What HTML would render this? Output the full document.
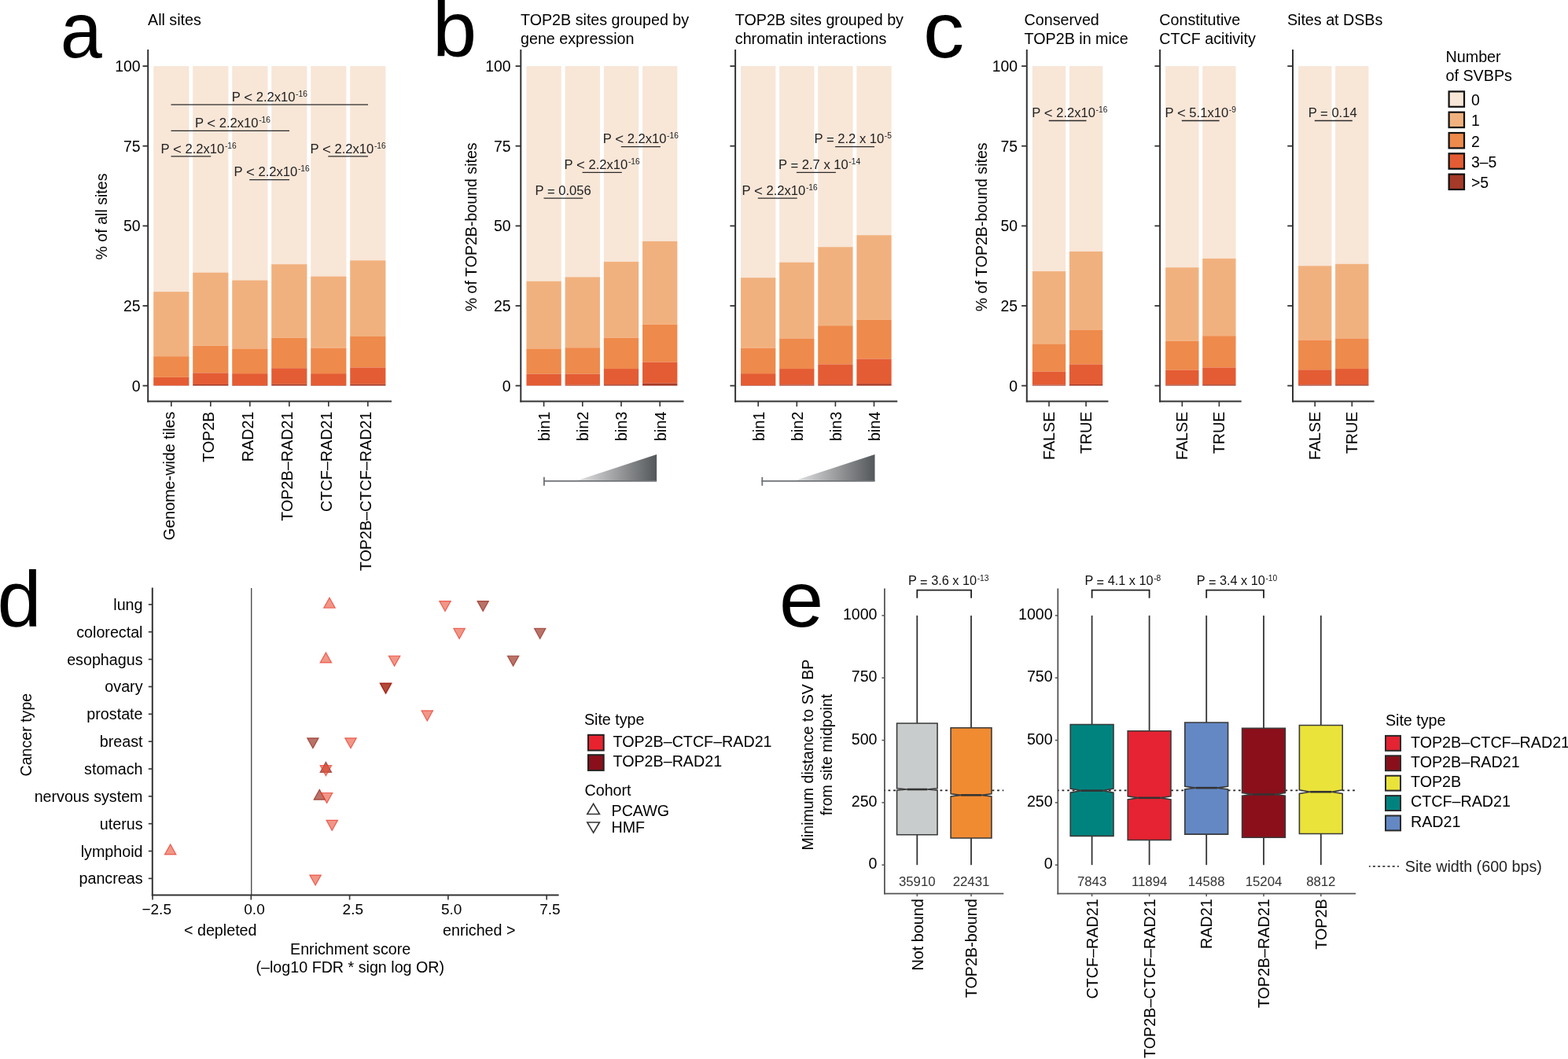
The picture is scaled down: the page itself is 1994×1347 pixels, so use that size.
<!DOCTYPE html>
<html><head><meta charset="utf-8"><title>Figure</title>
<style>
html,body{margin:0;padding:0;background:#fff;}
body{width:1994px;height:1347px;overflow:hidden;}
svg{display:block;font-family:"Liberation Sans", Arial, Helvetica, sans-serif;}
</style></head><body>
<svg width="1994" height="1347" viewBox="0 0 1994 1347">
<rect x="0" y="0" width="1994" height="1347" fill="#fff"/>
<text x="76.4" y="72.6" font-size="101" text-anchor="start" fill="#000" transform="translate(81 0) scale(0.944 1) translate(-81 0)">a</text>
<text x="550" y="72.3" font-size="101" text-anchor="start" fill="#000">b</text>
<text x="1174.2" y="72.8" font-size="101" text-anchor="start" fill="#000" transform="translate(1178.6 0) scale(1.032 1) translate(-1178.6 0)">c</text>
<text x="-3.4" y="797.3" font-size="101" text-anchor="start" fill="#000">d</text>
<text x="991" y="797" font-size="101" text-anchor="start" fill="#000">e</text>
<text x="188" y="31.9" font-size="19.7" text-anchor="start" fill="#000">All sites</text>
<text transform="translate(135.6,275.5) rotate(-90)" font-size="19.6" text-anchor="middle" fill="#000">% of all sites</text>
<rect x="195.2" y="84.1" width="45.2" height="286.99" fill="#F8E6D7"/>
<rect x="195.2" y="371.09" width="45.2" height="82.11" fill="#F1B17E"/>
<rect x="195.2" y="453.2" width="45.2" height="26.63" fill="#EE8A4B"/>
<rect x="195.2" y="479.83" width="45.2" height="10.37" fill="#E45C33"/>
<rect x="195.2" y="490.19" width="45.2" height="0.41" fill="#A53A28"/>
<rect x="245.2" y="84.1" width="45.2" height="262.6" fill="#F8E6D7"/>
<rect x="245.2" y="346.7" width="45.2" height="93.09" fill="#F1B17E"/>
<rect x="245.2" y="439.79" width="45.2" height="34.55" fill="#EE8A4B"/>
<rect x="245.2" y="474.34" width="45.2" height="14.63" fill="#E45C33"/>
<rect x="245.2" y="488.97" width="45.2" height="1.63" fill="#A53A28"/>
<rect x="295.2" y="84.1" width="45.2" height="272.36" fill="#F8E6D7"/>
<rect x="295.2" y="356.46" width="45.2" height="86.99" fill="#F1B17E"/>
<rect x="295.2" y="443.45" width="45.2" height="31.71" fill="#EE8A4B"/>
<rect x="295.2" y="475.15" width="45.2" height="14.84" fill="#E45C33"/>
<rect x="295.2" y="489.99" width="45.2" height="0.61" fill="#A53A28"/>
<rect x="345.2" y="84.1" width="45.2" height="252.03" fill="#F8E6D7"/>
<rect x="345.2" y="336.13" width="45.2" height="93.5" fill="#F1B17E"/>
<rect x="345.2" y="429.62" width="45.2" height="38.62" fill="#EE8A4B"/>
<rect x="345.2" y="468.24" width="45.2" height="20.53" fill="#E45C33"/>
<rect x="345.2" y="488.77" width="45.2" height="1.83" fill="#A53A28"/>
<rect x="395.2" y="84.1" width="45.2" height="267.48" fill="#F8E6D7"/>
<rect x="395.2" y="351.58" width="45.2" height="91.06" fill="#F1B17E"/>
<rect x="395.2" y="442.63" width="45.2" height="32.52" fill="#EE8A4B"/>
<rect x="395.2" y="475.15" width="45.2" height="14.84" fill="#E45C33"/>
<rect x="395.2" y="489.99" width="45.2" height="0.61" fill="#A53A28"/>
<rect x="445.2" y="84.1" width="45.2" height="247.15" fill="#F8E6D7"/>
<rect x="445.2" y="331.25" width="45.2" height="96.75" fill="#F1B17E"/>
<rect x="445.2" y="428" width="45.2" height="39.43" fill="#EE8A4B"/>
<rect x="445.2" y="467.43" width="45.2" height="21.34" fill="#E45C33"/>
<rect x="445.2" y="488.77" width="45.2" height="1.83" fill="#A53A28"/>
<line x1="188.2" y1="63" x2="188.2" y2="511.5" stroke="#333" stroke-width="2"/>
<line x1="181.5" y1="490.6" x2="188.2" y2="490.6" stroke="#333" stroke-width="1.8"/>
<text x="178.5" y="497.7" font-size="19.4" text-anchor="end" fill="#000">0</text>
<line x1="181.5" y1="388.98" x2="188.2" y2="388.98" stroke="#333" stroke-width="1.8"/>
<text x="178.5" y="396.08" font-size="19.4" text-anchor="end" fill="#000">25</text>
<line x1="181.5" y1="287.35" x2="188.2" y2="287.35" stroke="#333" stroke-width="1.8"/>
<text x="178.5" y="294.45" font-size="19.4" text-anchor="end" fill="#000">50</text>
<line x1="181.5" y1="185.72" x2="188.2" y2="185.72" stroke="#333" stroke-width="1.8"/>
<text x="178.5" y="192.82" font-size="19.4" text-anchor="end" fill="#000">75</text>
<line x1="181.5" y1="84.1" x2="188.2" y2="84.1" stroke="#333" stroke-width="1.8"/>
<text x="178.5" y="91.2" font-size="19.4" text-anchor="end" fill="#000">100</text>
<line x1="187.2" y1="510.6" x2="498" y2="510.6" stroke="#333" stroke-width="2"/>
<line x1="217.8" y1="510.6" x2="217.8" y2="517.1" stroke="#333" stroke-width="1.6"/>
<text transform="translate(222,523.6) rotate(-90)" font-size="19.75" text-anchor="end" fill="#000">Genome-wide tiles</text>
<line x1="267.8" y1="510.6" x2="267.8" y2="517.1" stroke="#333" stroke-width="1.6"/>
<text transform="translate(272,523.6) rotate(-90)" font-size="19.75" text-anchor="end" fill="#000">TOP2B</text>
<line x1="317.8" y1="510.6" x2="317.8" y2="517.1" stroke="#333" stroke-width="1.6"/>
<text transform="translate(322,523.6) rotate(-90)" font-size="19.75" text-anchor="end" fill="#000">RAD21</text>
<line x1="367.8" y1="510.6" x2="367.8" y2="517.1" stroke="#333" stroke-width="1.6"/>
<text transform="translate(372,523.6) rotate(-90)" font-size="19.75" text-anchor="end" fill="#000">TOP2B–RAD21</text>
<line x1="417.8" y1="510.6" x2="417.8" y2="517.1" stroke="#333" stroke-width="1.6"/>
<text transform="translate(422,523.6) rotate(-90)" font-size="19.75" text-anchor="end" fill="#000">CTCF–RAD21</text>
<line x1="467.8" y1="510.6" x2="467.8" y2="517.1" stroke="#333" stroke-width="1.6"/>
<text transform="translate(472,523.6) rotate(-90)" font-size="19.75" text-anchor="end" fill="#000">TOP2B–CTCF–RAD21</text>
<text x="294.8" y="128.8" font-size="16.6" text-anchor="start" fill="#222"><tspan y="128.8">P </tspan><tspan y="129.8" font-size="18.59">&lt;</tspan><tspan y="128.8"> 2.2x10</tspan><tspan y="123.2" font-size="10.2" dx="0.6">-16</tspan></text>
<line x1="217.5" y1="133.1" x2="468" y2="133.1" stroke="#2a2a2a" stroke-width="1.3"/>
<text x="247.9" y="161.9" font-size="16.6" text-anchor="start" fill="#222"><tspan y="161.9">P </tspan><tspan y="162.9" font-size="18.59">&lt;</tspan><tspan y="161.9"> 2.2x10</tspan><tspan y="156.3" font-size="10.2" dx="0.6">-16</tspan></text>
<line x1="217.5" y1="166.4" x2="368" y2="166.4" stroke="#2a2a2a" stroke-width="1.3"/>
<text x="204.6" y="194.8" font-size="16.6" text-anchor="start" fill="#222"><tspan y="194.8">P </tspan><tspan y="195.8" font-size="18.59">&lt;</tspan><tspan y="194.8"> 2.2x10</tspan><tspan y="189.2" font-size="10.2" dx="0.6">-16</tspan></text>
<line x1="217.5" y1="198.9" x2="268.2" y2="198.9" stroke="#2a2a2a" stroke-width="1.3"/>
<text x="394.6" y="194.8" font-size="16.6" text-anchor="start" fill="#222"><tspan y="194.8">P </tspan><tspan y="195.8" font-size="18.59">&lt;</tspan><tspan y="194.8"> 2.2x10</tspan><tspan y="189.2" font-size="10.2" dx="0.6">-16</tspan></text>
<line x1="417.3" y1="198.9" x2="468" y2="198.9" stroke="#2a2a2a" stroke-width="1.3"/>
<text x="297.6" y="223.9" font-size="16.6" text-anchor="start" fill="#222"><tspan y="223.9">P </tspan><tspan y="224.9" font-size="18.59">&lt;</tspan><tspan y="223.9"> 2.2x10</tspan><tspan y="218.3" font-size="10.2" dx="0.6">-16</tspan></text>
<line x1="317.2" y1="228.6" x2="368" y2="228.6" stroke="#2a2a2a" stroke-width="1.3"/>
<text transform="translate(605.5,288.8) rotate(-90)" font-size="19.6" text-anchor="middle" fill="#000">% of TOP2B-bound sites</text>
<text x="662" y="32.1" font-size="19.7" text-anchor="start" fill="#000">TOP2B sites grouped by</text>
<text x="662" y="55.6" font-size="19.7" text-anchor="start" fill="#000">gene expression</text>
<rect x="669.45" y="84.1" width="44.3" height="273.57" fill="#F8E6D7"/>
<rect x="669.45" y="357.67" width="44.3" height="85.77" fill="#F1B17E"/>
<rect x="669.45" y="443.45" width="44.3" height="32.11" fill="#EE8A4B"/>
<rect x="669.45" y="475.56" width="44.3" height="14.63" fill="#E45C33"/>
<rect x="669.45" y="490.19" width="44.3" height="0.41" fill="#A53A28"/>
<rect x="718.65" y="84.1" width="44.3" height="268.29" fill="#F8E6D7"/>
<rect x="718.65" y="352.39" width="44.3" height="89.84" fill="#F1B17E"/>
<rect x="718.65" y="442.23" width="44.3" height="33.33" fill="#EE8A4B"/>
<rect x="718.65" y="475.56" width="44.3" height="14.23" fill="#E45C33"/>
<rect x="718.65" y="489.79" width="44.3" height="0.81" fill="#A53A28"/>
<rect x="767.85" y="84.1" width="44.3" height="248.78" fill="#F8E6D7"/>
<rect x="767.85" y="332.88" width="44.3" height="96.75" fill="#F1B17E"/>
<rect x="767.85" y="429.62" width="44.3" height="39.43" fill="#EE8A4B"/>
<rect x="767.85" y="469.06" width="44.3" height="20.12" fill="#E45C33"/>
<rect x="767.85" y="489.18" width="44.3" height="1.42" fill="#A53A28"/>
<rect x="817.05" y="84.1" width="44.3" height="222.76" fill="#F8E6D7"/>
<rect x="817.05" y="306.86" width="44.3" height="105.69" fill="#F1B17E"/>
<rect x="817.05" y="412.55" width="44.3" height="47.97" fill="#EE8A4B"/>
<rect x="817.05" y="460.52" width="44.3" height="27.24" fill="#E45C33"/>
<rect x="817.05" y="487.75" width="44.3" height="2.85" fill="#A53A28"/>
<line x1="662.3" y1="63" x2="662.3" y2="511.5" stroke="#333" stroke-width="2"/>
<line x1="655.6" y1="490.6" x2="662.3" y2="490.6" stroke="#333" stroke-width="1.8"/>
<text x="649.6" y="497.7" font-size="19.4" text-anchor="end" fill="#000">0</text>
<line x1="655.6" y1="388.98" x2="662.3" y2="388.98" stroke="#333" stroke-width="1.8"/>
<text x="649.6" y="396.08" font-size="19.4" text-anchor="end" fill="#000">25</text>
<line x1="655.6" y1="287.35" x2="662.3" y2="287.35" stroke="#333" stroke-width="1.8"/>
<text x="649.6" y="294.45" font-size="19.4" text-anchor="end" fill="#000">50</text>
<line x1="655.6" y1="185.72" x2="662.3" y2="185.72" stroke="#333" stroke-width="1.8"/>
<text x="649.6" y="192.82" font-size="19.4" text-anchor="end" fill="#000">75</text>
<line x1="655.6" y1="84.1" x2="662.3" y2="84.1" stroke="#333" stroke-width="1.8"/>
<text x="649.6" y="91.2" font-size="19.4" text-anchor="end" fill="#000">100</text>
<line x1="661.3" y1="510.6" x2="869.5" y2="510.6" stroke="#333" stroke-width="2"/>
<line x1="691.6" y1="510.6" x2="691.6" y2="517.1" stroke="#333" stroke-width="1.6"/>
<text transform="translate(698.9,523.6) rotate(-90)" font-size="19.75" text-anchor="end" fill="#000">bin1</text>
<line x1="740.8" y1="510.6" x2="740.8" y2="517.1" stroke="#333" stroke-width="1.6"/>
<text transform="translate(748.1,523.6) rotate(-90)" font-size="19.75" text-anchor="end" fill="#000">bin2</text>
<line x1="790" y1="510.6" x2="790" y2="517.1" stroke="#333" stroke-width="1.6"/>
<text transform="translate(797.3,523.6) rotate(-90)" font-size="19.75" text-anchor="end" fill="#000">bin3</text>
<line x1="839.2" y1="510.6" x2="839.2" y2="517.1" stroke="#333" stroke-width="1.6"/>
<text transform="translate(846.5,523.6) rotate(-90)" font-size="19.75" text-anchor="end" fill="#000">bin4</text>
<text x="766.8" y="181.5" font-size="16.6" text-anchor="start" fill="#222"><tspan y="181.5">P </tspan><tspan y="182.5" font-size="18.59">&lt;</tspan><tspan y="181.5"> 2.2x10</tspan><tspan y="175.9" font-size="10.2" dx="0.6">-16</tspan></text>
<line x1="789.8" y1="186.6" x2="839.9" y2="186.6" stroke="#2a2a2a" stroke-width="1.3"/>
<text x="717.6" y="214.6" font-size="16.6" text-anchor="start" fill="#222"><tspan y="214.6">P </tspan><tspan y="215.6" font-size="18.59">&lt;</tspan><tspan y="214.6"> 2.2x10</tspan><tspan y="209" font-size="10.2" dx="0.6">-16</tspan></text>
<line x1="740.6" y1="219.3" x2="790.8" y2="219.3" stroke="#2a2a2a" stroke-width="1.3"/>
<text x="680.5" y="247.7" font-size="16.6" text-anchor="start" fill="#222"><tspan y="247.7">P </tspan><tspan y="249">=</tspan><tspan y="247.7"> 0.056</tspan></text>
<line x1="691.5" y1="252.2" x2="741.2" y2="252.2" stroke="#2a2a2a" stroke-width="1.3"/>
<text x="934.8" y="32.1" font-size="19.7" text-anchor="start" fill="#000">TOP2B sites grouped by</text>
<text x="934.8" y="55.6" font-size="19.7" text-anchor="start" fill="#000">chromatin interactions</text>
<rect x="942.05" y="84.1" width="44.3" height="269.1" fill="#F8E6D7"/>
<rect x="942.05" y="353.2" width="44.3" height="89.43" fill="#F1B17E"/>
<rect x="942.05" y="442.63" width="44.3" height="32.52" fill="#EE8A4B"/>
<rect x="942.05" y="475.15" width="44.3" height="14.84" fill="#E45C33"/>
<rect x="942.05" y="489.99" width="44.3" height="0.61" fill="#A53A28"/>
<rect x="991.15" y="84.1" width="44.3" height="249.59" fill="#F8E6D7"/>
<rect x="991.15" y="333.69" width="44.3" height="96.75" fill="#F1B17E"/>
<rect x="991.15" y="430.44" width="44.3" height="38.62" fill="#EE8A4B"/>
<rect x="991.15" y="469.06" width="44.3" height="20.33" fill="#E45C33"/>
<rect x="991.15" y="489.38" width="44.3" height="1.22" fill="#A53A28"/>
<rect x="1040.25" y="84.1" width="44.3" height="230.08" fill="#F8E6D7"/>
<rect x="1040.25" y="314.18" width="44.3" height="100" fill="#F1B17E"/>
<rect x="1040.25" y="414.18" width="44.3" height="49.19" fill="#EE8A4B"/>
<rect x="1040.25" y="463.36" width="44.3" height="25.81" fill="#E45C33"/>
<rect x="1040.25" y="489.18" width="44.3" height="1.42" fill="#A53A28"/>
<rect x="1089.35" y="84.1" width="44.3" height="215.04" fill="#F8E6D7"/>
<rect x="1089.35" y="299.14" width="44.3" height="107.72" fill="#F1B17E"/>
<rect x="1089.35" y="406.86" width="44.3" height="49.59" fill="#EE8A4B"/>
<rect x="1089.35" y="456.45" width="44.3" height="31.71" fill="#E45C33"/>
<rect x="1089.35" y="488.16" width="44.3" height="2.44" fill="#A53A28"/>
<line x1="935.1" y1="63" x2="935.1" y2="511.5" stroke="#333" stroke-width="2"/>
<line x1="928.4" y1="490.6" x2="935.1" y2="490.6" stroke="#333" stroke-width="1.8"/>
<line x1="928.4" y1="388.98" x2="935.1" y2="388.98" stroke="#333" stroke-width="1.8"/>
<line x1="928.4" y1="287.35" x2="935.1" y2="287.35" stroke="#333" stroke-width="1.8"/>
<line x1="928.4" y1="185.72" x2="935.1" y2="185.72" stroke="#333" stroke-width="1.8"/>
<line x1="928.4" y1="84.1" x2="935.1" y2="84.1" stroke="#333" stroke-width="1.8"/>
<line x1="934.1" y1="510.6" x2="1141.2" y2="510.6" stroke="#333" stroke-width="2"/>
<line x1="964.2" y1="510.6" x2="964.2" y2="517.1" stroke="#333" stroke-width="1.6"/>
<text transform="translate(971.5,523.6) rotate(-90)" font-size="19.75" text-anchor="end" fill="#000">bin1</text>
<line x1="1013.3" y1="510.6" x2="1013.3" y2="517.1" stroke="#333" stroke-width="1.6"/>
<text transform="translate(1020.6,523.6) rotate(-90)" font-size="19.75" text-anchor="end" fill="#000">bin2</text>
<line x1="1062.4" y1="510.6" x2="1062.4" y2="517.1" stroke="#333" stroke-width="1.6"/>
<text transform="translate(1069.7,523.6) rotate(-90)" font-size="19.75" text-anchor="end" fill="#000">bin3</text>
<line x1="1111.5" y1="510.6" x2="1111.5" y2="517.1" stroke="#333" stroke-width="1.6"/>
<text transform="translate(1118.8,523.6) rotate(-90)" font-size="19.75" text-anchor="end" fill="#000">bin4</text>
<text x="1035.5" y="181.5" font-size="16.6" text-anchor="start" fill="#222"><tspan y="181.5">P </tspan><tspan y="182.8">=</tspan><tspan y="181.5"> 2.2 x 10</tspan><tspan y="175.9" font-size="10.2" dx="0.6">-5</tspan></text>
<line x1="1062.1" y1="186.6" x2="1112" y2="186.6" stroke="#2a2a2a" stroke-width="1.3"/>
<text x="990" y="214.6" font-size="16.6" text-anchor="start" fill="#222"><tspan y="214.6">P </tspan><tspan y="215.9">=</tspan><tspan y="214.6"> 2.7 x 10</tspan><tspan y="209" font-size="10.2" dx="0.6">-14</tspan></text>
<line x1="1012.9" y1="219.3" x2="1062.9" y2="219.3" stroke="#2a2a2a" stroke-width="1.3"/>
<text x="943.6" y="247.7" font-size="16.6" text-anchor="start" fill="#222"><tspan y="247.7">P </tspan><tspan y="248.7" font-size="18.59">&lt;</tspan><tspan y="247.7"> 2.2x10</tspan><tspan y="242.1" font-size="10.2" dx="0.6">-16</tspan></text>
<line x1="963.8" y1="252.2" x2="1013.7" y2="252.2" stroke="#2a2a2a" stroke-width="1.3"/>
<defs><linearGradient id="gw1" gradientUnits="userSpaceOnUse" x1="715" y1="0" x2="835.1" y2="0"><stop offset="0" stop-color="#ffffff"/><stop offset="1" stop-color="#54575a"/></linearGradient></defs>
<polygon points="731.35,611.9 835.1,578 835.1,611.9" fill="url(#gw1)"/>
<line x1="691" y1="611.9" x2="835.1" y2="611.9" stroke="#6f7277" stroke-width="1.8"/>
<line x1="691.9" y1="606.8" x2="691.9" y2="617.8" stroke="#6f7277" stroke-width="1.8"/>
<defs><linearGradient id="gw2" gradientUnits="userSpaceOnUse" x1="992.4" y1="0" x2="1112.5" y2="0"><stop offset="0" stop-color="#ffffff"/><stop offset="1" stop-color="#54575a"/></linearGradient></defs>
<polygon points="1008.75,611.9 1112.5,578 1112.5,611.9" fill="url(#gw2)"/>
<line x1="968.4" y1="611.9" x2="1112.5" y2="611.9" stroke="#6f7277" stroke-width="1.8"/>
<line x1="969.3" y1="606.8" x2="969.3" y2="617.8" stroke="#6f7277" stroke-width="1.8"/>
<text transform="translate(1254.7,288.8) rotate(-90)" font-size="19.6" text-anchor="middle" fill="#000">% of TOP2B-bound sites</text>
<text x="1302.6" y="32.1" font-size="19.7" text-anchor="start" fill="#000">Conserved</text>
<text x="1302.6" y="55.6" font-size="19.7" text-anchor="start" fill="#000">TOP2B in mice</text>
<rect x="1312.86" y="84.1" width="42.34" height="260.97" fill="#F8E6D7"/>
<rect x="1312.86" y="345.07" width="42.34" height="92.28" fill="#F1B17E"/>
<rect x="1312.86" y="437.35" width="42.34" height="35.37" fill="#EE8A4B"/>
<rect x="1312.86" y="472.71" width="42.34" height="16.87" fill="#E45C33"/>
<rect x="1312.86" y="489.58" width="42.34" height="1.02" fill="#A53A28"/>
<rect x="1359.91" y="84.1" width="42.34" height="235.77" fill="#F8E6D7"/>
<rect x="1359.91" y="319.87" width="42.34" height="99.59" fill="#F1B17E"/>
<rect x="1359.91" y="419.46" width="42.34" height="43.9" fill="#EE8A4B"/>
<rect x="1359.91" y="463.36" width="42.34" height="25.61" fill="#E45C33"/>
<rect x="1359.91" y="488.97" width="42.34" height="1.63" fill="#A53A28"/>
<line x1="1305.8" y1="63" x2="1305.8" y2="511.5" stroke="#333" stroke-width="2"/>
<line x1="1299.1" y1="490.6" x2="1305.8" y2="490.6" stroke="#333" stroke-width="1.8"/>
<text x="1294" y="497.7" font-size="19.4" text-anchor="end" fill="#000">0</text>
<line x1="1299.1" y1="388.98" x2="1305.8" y2="388.98" stroke="#333" stroke-width="1.8"/>
<text x="1294" y="396.08" font-size="19.4" text-anchor="end" fill="#000">25</text>
<line x1="1299.1" y1="287.35" x2="1305.8" y2="287.35" stroke="#333" stroke-width="1.8"/>
<text x="1294" y="294.45" font-size="19.4" text-anchor="end" fill="#000">50</text>
<line x1="1299.1" y1="185.72" x2="1305.8" y2="185.72" stroke="#333" stroke-width="1.8"/>
<text x="1294" y="192.82" font-size="19.4" text-anchor="end" fill="#000">75</text>
<line x1="1299.1" y1="84.1" x2="1305.8" y2="84.1" stroke="#333" stroke-width="1.8"/>
<text x="1294" y="91.2" font-size="19.4" text-anchor="end" fill="#000">100</text>
<line x1="1304.8" y1="510.6" x2="1409.4" y2="510.6" stroke="#333" stroke-width="2"/>
<line x1="1334.03" y1="510.6" x2="1334.03" y2="517.1" stroke="#333" stroke-width="1.6"/>
<text transform="translate(1341.03,523.6) rotate(-90)" font-size="19.75" text-anchor="end" fill="#000">FALSE</text>
<line x1="1381.08" y1="510.6" x2="1381.08" y2="517.1" stroke="#333" stroke-width="1.6"/>
<text transform="translate(1388.08,523.6) rotate(-90)" font-size="19.75" text-anchor="end" fill="#000">TRUE</text>
<text x="1474.3" y="32.1" font-size="19.7" text-anchor="start" fill="#000">Constitutive</text>
<text x="1474.3" y="55.6" font-size="19.7" text-anchor="start" fill="#000">CTCF acitivity</text>
<rect x="1482.16" y="84.1" width="42.34" height="256.1" fill="#F8E6D7"/>
<rect x="1482.16" y="340.2" width="42.34" height="93.49" fill="#F1B17E"/>
<rect x="1482.16" y="433.69" width="42.34" height="36.99" fill="#EE8A4B"/>
<rect x="1482.16" y="470.68" width="42.34" height="18.7" fill="#E45C33"/>
<rect x="1482.16" y="489.38" width="42.34" height="1.22" fill="#A53A28"/>
<rect x="1529.21" y="84.1" width="42.34" height="244.71" fill="#F8E6D7"/>
<rect x="1529.21" y="328.81" width="42.34" height="98.37" fill="#F1B17E"/>
<rect x="1529.21" y="427.19" width="42.34" height="40.24" fill="#EE8A4B"/>
<rect x="1529.21" y="467.43" width="42.34" height="21.75" fill="#E45C33"/>
<rect x="1529.21" y="489.18" width="42.34" height="1.42" fill="#A53A28"/>
<line x1="1475.1" y1="63" x2="1475.1" y2="511.5" stroke="#333" stroke-width="2"/>
<line x1="1468.4" y1="490.6" x2="1475.1" y2="490.6" stroke="#333" stroke-width="1.8"/>
<line x1="1468.4" y1="388.98" x2="1475.1" y2="388.98" stroke="#333" stroke-width="1.8"/>
<line x1="1468.4" y1="287.35" x2="1475.1" y2="287.35" stroke="#333" stroke-width="1.8"/>
<line x1="1468.4" y1="185.72" x2="1475.1" y2="185.72" stroke="#333" stroke-width="1.8"/>
<line x1="1468.4" y1="84.1" x2="1475.1" y2="84.1" stroke="#333" stroke-width="1.8"/>
<line x1="1474.1" y1="510.6" x2="1578.7" y2="510.6" stroke="#333" stroke-width="2"/>
<line x1="1503.33" y1="510.6" x2="1503.33" y2="517.1" stroke="#333" stroke-width="1.6"/>
<text transform="translate(1510.33,523.6) rotate(-90)" font-size="19.75" text-anchor="end" fill="#000">FALSE</text>
<line x1="1550.38" y1="510.6" x2="1550.38" y2="517.1" stroke="#333" stroke-width="1.6"/>
<text transform="translate(1557.38,523.6) rotate(-90)" font-size="19.75" text-anchor="end" fill="#000">TRUE</text>
<text x="1636.9" y="32.1" font-size="19.7" text-anchor="start" fill="#000">Sites at DSBs</text>
<rect x="1651.06" y="84.1" width="42.34" height="254.06" fill="#F8E6D7"/>
<rect x="1651.06" y="338.16" width="42.34" height="94.31" fill="#F1B17E"/>
<rect x="1651.06" y="432.47" width="42.34" height="37.8" fill="#EE8A4B"/>
<rect x="1651.06" y="470.28" width="42.34" height="19.11" fill="#E45C33"/>
<rect x="1651.06" y="489.38" width="42.34" height="1.22" fill="#A53A28"/>
<rect x="1698.11" y="84.1" width="42.34" height="251.62" fill="#F8E6D7"/>
<rect x="1698.11" y="335.72" width="42.34" height="94.71" fill="#F1B17E"/>
<rect x="1698.11" y="430.44" width="42.34" height="38.62" fill="#EE8A4B"/>
<rect x="1698.11" y="469.06" width="42.34" height="20.12" fill="#E45C33"/>
<rect x="1698.11" y="489.18" width="42.34" height="1.42" fill="#A53A28"/>
<line x1="1644" y1="63" x2="1644" y2="511.5" stroke="#333" stroke-width="2"/>
<line x1="1637.3" y1="490.6" x2="1644" y2="490.6" stroke="#333" stroke-width="1.8"/>
<line x1="1637.3" y1="388.98" x2="1644" y2="388.98" stroke="#333" stroke-width="1.8"/>
<line x1="1637.3" y1="287.35" x2="1644" y2="287.35" stroke="#333" stroke-width="1.8"/>
<line x1="1637.3" y1="185.72" x2="1644" y2="185.72" stroke="#333" stroke-width="1.8"/>
<line x1="1637.3" y1="84.1" x2="1644" y2="84.1" stroke="#333" stroke-width="1.8"/>
<line x1="1643" y1="510.6" x2="1747.6" y2="510.6" stroke="#333" stroke-width="2"/>
<line x1="1672.23" y1="510.6" x2="1672.23" y2="517.1" stroke="#333" stroke-width="1.6"/>
<text transform="translate(1679.23,523.6) rotate(-90)" font-size="19.75" text-anchor="end" fill="#000">FALSE</text>
<line x1="1719.28" y1="510.6" x2="1719.28" y2="517.1" stroke="#333" stroke-width="1.6"/>
<text transform="translate(1726.28,523.6) rotate(-90)" font-size="19.75" text-anchor="end" fill="#000">TRUE</text>
<text x="1312.3" y="149" font-size="16.6" text-anchor="start" fill="#222"><tspan y="149">P </tspan><tspan y="150" font-size="18.59">&lt;</tspan><tspan y="149"> 2.2x10</tspan><tspan y="143.4" font-size="10.2" dx="0.6">-16</tspan></text>
<line x1="1333.7" y1="153.5" x2="1381.5" y2="153.5" stroke="#2a2a2a" stroke-width="1.3"/>
<text x="1481.5" y="149" font-size="16.6" text-anchor="start" fill="#222"><tspan y="149">P </tspan><tspan y="150" font-size="18.59">&lt;</tspan><tspan y="149"> 5.1x10</tspan><tspan y="143.4" font-size="10.2" dx="0.6">-9</tspan></text>
<line x1="1502.8" y1="153.5" x2="1550.6" y2="153.5" stroke="#2a2a2a" stroke-width="1.3"/>
<text x="1663.7" y="149" font-size="16.6" text-anchor="start" fill="#222"><tspan y="149">P </tspan><tspan y="150.3">=</tspan><tspan y="149"> 0.14</tspan></text>
<line x1="1671.8" y1="153.5" x2="1719.8" y2="153.5" stroke="#2a2a2a" stroke-width="1.3"/>
<text x="1838.6" y="78.8" font-size="19.7" text-anchor="start" fill="#000">Number</text>
<text x="1838.6" y="102.7" font-size="19.7" text-anchor="start" fill="#000">of SVBPs</text>
<rect x="1842.6" y="116.4" width="19.4" height="19.4" fill="#F8E6D7" stroke="#111" stroke-width="2.2"/>
<text x="1871" y="133.9" font-size="19.4" text-anchor="start" fill="#000">0</text>
<rect x="1842.6" y="142.7" width="19.4" height="19.4" fill="#F1B17E" stroke="#111" stroke-width="2.2"/>
<text x="1871" y="160.2" font-size="19.4" text-anchor="start" fill="#000">1</text>
<rect x="1842.6" y="169" width="19.4" height="19.4" fill="#EE8A4B" stroke="#111" stroke-width="2.2"/>
<text x="1871" y="186.5" font-size="19.4" text-anchor="start" fill="#000">2</text>
<rect x="1842.6" y="195.3" width="19.4" height="19.4" fill="#E45C33" stroke="#111" stroke-width="2.2"/>
<text x="1871" y="212.8" font-size="19.4" text-anchor="start" fill="#000">3–5</text>
<rect x="1842.6" y="221.6" width="19.4" height="19.4" fill="#A53A28" stroke="#111" stroke-width="2.2"/>
<text x="1871" y="239.1" font-size="19.4" text-anchor="start" fill="#000">&gt;5</text>
<line x1="319.7" y1="748" x2="319.7" y2="1138" stroke="#444" stroke-width="1.3"/>
<line x1="193.8" y1="747.4" x2="193.8" y2="1139.4" stroke="#333" stroke-width="2"/>
<line x1="192.8" y1="1138.4" x2="710.6" y2="1138.4" stroke="#333" stroke-width="2"/>
<line x1="188.8" y1="768.9" x2="193.8" y2="768.9" stroke="#333" stroke-width="1.6"/>
<text x="181.5" y="775.9" font-size="19.7" text-anchor="end" fill="#000">lung</text>
<line x1="188.8" y1="803.75" x2="193.8" y2="803.75" stroke="#333" stroke-width="1.6"/>
<text x="181.5" y="810.75" font-size="19.7" text-anchor="end" fill="#000">colorectal</text>
<line x1="188.8" y1="838.6" x2="193.8" y2="838.6" stroke="#333" stroke-width="1.6"/>
<text x="181.5" y="845.6" font-size="19.7" text-anchor="end" fill="#000">esophagus</text>
<line x1="188.8" y1="873.45" x2="193.8" y2="873.45" stroke="#333" stroke-width="1.6"/>
<text x="181.5" y="880.45" font-size="19.7" text-anchor="end" fill="#000">ovary</text>
<line x1="188.8" y1="908.3" x2="193.8" y2="908.3" stroke="#333" stroke-width="1.6"/>
<text x="181.5" y="915.3" font-size="19.7" text-anchor="end" fill="#000">prostate</text>
<line x1="188.8" y1="943.15" x2="193.8" y2="943.15" stroke="#333" stroke-width="1.6"/>
<text x="181.5" y="950.15" font-size="19.7" text-anchor="end" fill="#000">breast</text>
<line x1="188.8" y1="978" x2="193.8" y2="978" stroke="#333" stroke-width="1.6"/>
<text x="181.5" y="985" font-size="19.7" text-anchor="end" fill="#000">stomach</text>
<line x1="188.8" y1="1012.85" x2="193.8" y2="1012.85" stroke="#333" stroke-width="1.6"/>
<text x="181.5" y="1019.85" font-size="19.7" text-anchor="end" fill="#000">nervous system</text>
<line x1="188.8" y1="1047.7" x2="193.8" y2="1047.7" stroke="#333" stroke-width="1.6"/>
<text x="181.5" y="1054.7" font-size="19.7" text-anchor="end" fill="#000">uterus</text>
<line x1="188.8" y1="1082.55" x2="193.8" y2="1082.55" stroke="#333" stroke-width="1.6"/>
<text x="181.5" y="1089.55" font-size="19.7" text-anchor="end" fill="#000">lymphoid</text>
<line x1="188.8" y1="1117.4" x2="193.8" y2="1117.4" stroke="#333" stroke-width="1.6"/>
<text x="181.5" y="1124.4" font-size="19.7" text-anchor="end" fill="#000">pancreas</text>
<line x1="194" y1="1138.4" x2="194" y2="1144.5" stroke="#333" stroke-width="1.6"/>
<text x="199.2" y="1162.9" font-size="19" text-anchor="middle" fill="#000">−2.5</text>
<line x1="319.3" y1="1138.4" x2="319.3" y2="1144.5" stroke="#333" stroke-width="1.6"/>
<text x="323.5" y="1162.9" font-size="19" text-anchor="middle" fill="#000">0.0</text>
<line x1="444.6" y1="1138.4" x2="444.6" y2="1144.5" stroke="#333" stroke-width="1.6"/>
<text x="448.8" y="1162.9" font-size="19" text-anchor="middle" fill="#000">2.5</text>
<line x1="569.9" y1="1138.4" x2="569.9" y2="1144.5" stroke="#333" stroke-width="1.6"/>
<text x="574.1" y="1162.9" font-size="19" text-anchor="middle" fill="#000">5.0</text>
<line x1="695.2" y1="1138.4" x2="695.2" y2="1144.5" stroke="#333" stroke-width="1.6"/>
<text x="699.4" y="1162.9" font-size="19" text-anchor="middle" fill="#000">7.5</text>
<text x="234" y="1190.4" font-size="19.7" text-anchor="start" fill="#000">&lt; depleted</text>
<text x="563" y="1190.4" font-size="19.7" text-anchor="start" fill="#000">enriched &gt;</text>
<text x="445.6" y="1213.7" font-size="19.7" text-anchor="middle" fill="#000">Enrichment score</text>
<text x="445.3" y="1236.8" font-size="19.7" text-anchor="middle" fill="#000">(–log10 FDR * sign log OR)</text>
<text transform="translate(40.4,934.6) rotate(-90)" font-size="19.6" text-anchor="middle" fill="#000">Cancer type</text>
<polygon points="419,760.23 411.8,773.23 426.2,773.23" fill="rgba(232,80,55,0.6)" stroke="rgba(232,60,45,0.75)" stroke-width="1.2" stroke-linejoin="miter"/>
<polygon points="566,777.57 558.8,764.57 573.2,764.57" fill="rgba(232,80,55,0.6)" stroke="rgba(232,60,45,0.75)" stroke-width="1.2" stroke-linejoin="miter"/>
<polygon points="614.2,777.57 607,764.57 621.4,764.57" fill="rgba(138,22,5,0.6)" stroke="rgba(140,25,10,0.66)" stroke-width="1.2" stroke-linejoin="miter"/>
<polygon points="584.1,812.42 576.9,799.42 591.3,799.42" fill="rgba(232,80,55,0.6)" stroke="rgba(232,60,45,0.75)" stroke-width="1.2" stroke-linejoin="miter"/>
<polygon points="686.7,812.42 679.5,799.42 693.9,799.42" fill="rgba(138,22,5,0.6)" stroke="rgba(140,25,10,0.66)" stroke-width="1.2" stroke-linejoin="miter"/>
<polygon points="414.4,829.93 407.2,842.93 421.6,842.93" fill="rgba(232,80,55,0.6)" stroke="rgba(232,60,45,0.75)" stroke-width="1.2" stroke-linejoin="miter"/>
<polygon points="501.6,847.27 494.4,834.27 508.8,834.27" fill="rgba(232,80,55,0.6)" stroke="rgba(232,60,45,0.75)" stroke-width="1.2" stroke-linejoin="miter"/>
<polygon points="652.6,847.27 645.4,834.27 659.8,834.27" fill="rgba(138,22,5,0.6)" stroke="rgba(140,25,10,0.66)" stroke-width="1.2" stroke-linejoin="miter"/>
<polygon points="490.6,882.12 483.4,869.12 497.8,869.12" fill="rgba(232,80,55,0.6)" stroke="rgba(232,60,45,0.75)" stroke-width="1.2" stroke-linejoin="miter"/>
<polygon points="490.6,882.12 483.4,869.12 497.8,869.12" fill="rgba(138,22,5,0.6)" stroke="rgba(140,25,10,0.66)" stroke-width="1.2" stroke-linejoin="miter"/>
<polygon points="543.3,916.97 536.1,903.97 550.5,903.97" fill="rgba(232,80,55,0.6)" stroke="rgba(232,60,45,0.75)" stroke-width="1.2" stroke-linejoin="miter"/>
<polygon points="397.9,951.82 390.7,938.82 405.1,938.82" fill="rgba(138,22,5,0.6)" stroke="rgba(140,25,10,0.66)" stroke-width="1.2" stroke-linejoin="miter"/>
<polygon points="446,951.82 438.8,938.82 453.2,938.82" fill="rgba(232,80,55,0.6)" stroke="rgba(232,60,45,0.75)" stroke-width="1.2" stroke-linejoin="miter"/>
<polygon points="414.4,969.33 407.2,982.33 421.6,982.33" fill="rgba(138,22,5,0.6)" stroke="rgba(140,25,10,0.66)" stroke-width="1.2" stroke-linejoin="miter"/>
<polygon points="414.4,986.67 407.2,973.67 421.6,973.67" fill="rgba(232,80,55,0.6)" stroke="rgba(232,60,45,0.75)" stroke-width="1.2" stroke-linejoin="miter"/>
<polygon points="406.3,1004.18 399.1,1017.18 413.5,1017.18" fill="rgba(138,22,5,0.6)" stroke="rgba(140,25,10,0.66)" stroke-width="1.2" stroke-linejoin="miter"/>
<polygon points="415.6,1021.52 408.4,1008.52 422.8,1008.52" fill="rgba(232,80,55,0.6)" stroke="rgba(232,60,45,0.75)" stroke-width="1.2" stroke-linejoin="miter"/>
<polygon points="422.3,1056.37 415.1,1043.37 429.5,1043.37" fill="rgba(232,80,55,0.6)" stroke="rgba(232,60,45,0.75)" stroke-width="1.2" stroke-linejoin="miter"/>
<polygon points="216.7,1073.88 209.5,1086.88 223.9,1086.88" fill="rgba(232,80,55,0.6)" stroke="rgba(232,60,45,0.75)" stroke-width="1.2" stroke-linejoin="miter"/>
<polygon points="401.1,1126.07 393.9,1113.07 408.3,1113.07" fill="rgba(232,80,55,0.6)" stroke="rgba(232,60,45,0.75)" stroke-width="1.2" stroke-linejoin="miter"/>
<text x="742.9" y="922" font-size="19.7" text-anchor="start" fill="#000">Site type</text>
<rect x="748" y="934.8" width="19.7" height="19.7" fill="#E8232F" stroke="#222" stroke-width="2"/>
<rect x="748" y="960.2" width="19.7" height="19.7" fill="#8A0F1A" stroke="#222" stroke-width="2"/>
<text x="779.5" y="950.1" font-size="19.7" text-anchor="start" fill="#000">TOP2B–CTCF–RAD21</text>
<text x="779.5" y="974.7" font-size="19.7" text-anchor="start" fill="#000">TOP2B–RAD21</text>
<text x="743.5" y="1011.9" font-size="19.7" text-anchor="start" fill="#000">Cohort</text>
<polygon points="754.6,1022.3 746.8,1035.5 762.4,1035.5" fill="none" stroke="#333" stroke-width="1.6"/>
<polygon points="754.6,1059.2 746.8,1046 762.4,1046" fill="none" stroke="#333" stroke-width="1.6"/>
<text x="777.5" y="1038.4" font-size="19.7" text-anchor="start" fill="#000">PCAWG</text>
<text x="777.5" y="1058.5" font-size="19.7" text-anchor="start" fill="#000">HMF</text>
<line x1="1124.9" y1="748.4" x2="1124.9" y2="1137.4" stroke="#555" stroke-width="1.8"/>
<line x1="1124" y1="1136.6" x2="1276.3" y2="1136.6" stroke="#555" stroke-width="1.8"/>
<line x1="1121.4" y1="1100.2" x2="1124.9" y2="1100.2" stroke="#555" stroke-width="1.5"/>
<text x="1115.5" y="1105.4" font-size="19.59" text-anchor="end" fill="#000">0</text>
<line x1="1121.4" y1="1020.88" x2="1124.9" y2="1020.88" stroke="#555" stroke-width="1.5"/>
<text x="1115.5" y="1026.08" font-size="19.59" text-anchor="end" fill="#000">250</text>
<line x1="1121.4" y1="941.55" x2="1124.9" y2="941.55" stroke="#555" stroke-width="1.5"/>
<text x="1115.5" y="946.75" font-size="19.59" text-anchor="end" fill="#000">500</text>
<line x1="1121.4" y1="862.23" x2="1124.9" y2="862.23" stroke="#555" stroke-width="1.5"/>
<text x="1115.5" y="867.43" font-size="19.59" text-anchor="end" fill="#000">750</text>
<line x1="1121.4" y1="782.9" x2="1124.9" y2="782.9" stroke="#555" stroke-width="1.5"/>
<text x="1115.5" y="788.1" font-size="19.59" text-anchor="end" fill="#000">1000</text>
<line x1="1124.9" y1="1005.4" x2="1276.3" y2="1005.4" stroke="#222" stroke-width="1.6" stroke-dasharray="2.8 3.8" stroke-dashoffset="2.0"/>
<line x1="1166.3" y1="782.9" x2="1166.3" y2="919.97" stroke="#333" stroke-width="1.8"/>
<line x1="1166.3" y1="1061.81" x2="1166.3" y2="1100.2" stroke="#333" stroke-width="1.8"/>
<polygon points="1140.55,919.97 1192.05,919.97 1192.05,1002.88 1179.17,1004.06 1192.05,1005.24 1192.05,1061.81 1140.55,1061.81 1140.55,1005.24 1153.42,1004.06 1140.55,1002.88" fill="#C9CCCC" stroke="#3a3a3a" stroke-width="1.6" stroke-linejoin="miter"/>
<line x1="1153.42" y1="1004.06" x2="1179.17" y2="1004.06" stroke="#333" stroke-width="2.6"/>
<text x="1166.3" y="1127.1" font-size="16.8" text-anchor="middle" fill="#333">35910</text>
<line x1="1235" y1="782.9" x2="1235" y2="925.69" stroke="#333" stroke-width="1.8"/>
<line x1="1235" y1="1065.93" x2="1235" y2="1100.2" stroke="#333" stroke-width="1.8"/>
<polygon points="1209.1,925.69 1260.9,925.69 1260.9,1009.88 1247.95,1011.36 1260.9,1012.84 1260.9,1065.93 1209.1,1065.93 1209.1,1012.84 1222.05,1011.36 1209.1,1009.88" fill="#F18B32" stroke="#3a3a3a" stroke-width="1.6" stroke-linejoin="miter"/>
<line x1="1222.05" y1="1011.36" x2="1247.95" y2="1011.36" stroke="#333" stroke-width="2.6"/>
<text x="1235" y="1127.1" font-size="16.8" text-anchor="middle" fill="#333">22431</text>
<polyline points="1166.3,760.7 1166.3,750.7 1235.1,750.7 1235.1,760.7" fill="none" stroke="#222" stroke-width="1.8"/>
<text x="1155" y="744.2" font-size="16.3" text-anchor="start" fill="#111"><tspan y="744.2">P </tspan><tspan y="745.5">=</tspan><tspan y="744.2"> 3.6 x 10</tspan><tspan y="738.6" font-size="10.2" dx="0.6">-13</tspan></text>
<text transform="translate(1033.9,960) rotate(-90)" font-size="19.6" text-anchor="middle" fill="#000">Minimum distance to SV BP</text>
<text transform="translate(1058.4,960) rotate(-90)" font-size="19.6" text-anchor="middle" fill="#000">from site midpoint</text>
<line x1="1166.3" y1="1136.6" x2="1166.3" y2="1140.2" stroke="#555" stroke-width="1.5"/>
<text transform="translate(1173.5,1143.3) rotate(-90)" font-size="19.75" text-anchor="end" fill="#000">Not bound</text>
<line x1="1235" y1="1136.6" x2="1235" y2="1140.2" stroke="#555" stroke-width="1.5"/>
<text transform="translate(1242.2,1143.3) rotate(-90)" font-size="19.75" text-anchor="end" fill="#000">TOP2B-bound</text>
<line x1="1345.3" y1="748.4" x2="1345.3" y2="1137.4" stroke="#555" stroke-width="1.8"/>
<line x1="1344.4" y1="1136.6" x2="1724" y2="1136.6" stroke="#555" stroke-width="1.8"/>
<line x1="1341.8" y1="1100.2" x2="1345.3" y2="1100.2" stroke="#555" stroke-width="1.5"/>
<text x="1338.6" y="1105.4" font-size="19.59" text-anchor="end" fill="#000">0</text>
<line x1="1341.8" y1="1020.88" x2="1345.3" y2="1020.88" stroke="#555" stroke-width="1.5"/>
<text x="1338.6" y="1026.08" font-size="19.59" text-anchor="end" fill="#000">250</text>
<line x1="1341.8" y1="941.55" x2="1345.3" y2="941.55" stroke="#555" stroke-width="1.5"/>
<text x="1338.6" y="946.75" font-size="19.59" text-anchor="end" fill="#000">500</text>
<line x1="1341.8" y1="862.23" x2="1345.3" y2="862.23" stroke="#555" stroke-width="1.5"/>
<text x="1338.6" y="867.43" font-size="19.59" text-anchor="end" fill="#000">750</text>
<line x1="1341.8" y1="782.9" x2="1345.3" y2="782.9" stroke="#555" stroke-width="1.5"/>
<text x="1338.6" y="788.1" font-size="19.59" text-anchor="end" fill="#000">1000</text>
<line x1="1345.3" y1="1005.4" x2="1724" y2="1005.4" stroke="#222" stroke-width="1.6" stroke-dasharray="2.8 3.8" stroke-dashoffset="1.4"/>
<line x1="1388.6" y1="782.9" x2="1388.6" y2="921.56" stroke="#333" stroke-width="1.8"/>
<line x1="1388.6" y1="1063.39" x2="1388.6" y2="1100.2" stroke="#333" stroke-width="1.8"/>
<polygon points="1361.2,921.56 1416,921.56 1416,1003.11 1402.3,1005.64 1416,1008.18 1416,1063.39 1361.2,1063.39 1361.2,1008.18 1374.9,1005.64 1361.2,1003.11" fill="#00837F" stroke="#3a3a3a" stroke-width="1.6" stroke-linejoin="miter"/>
<line x1="1374.9" y1="1005.64" x2="1402.3" y2="1005.64" stroke="#333" stroke-width="2.6"/>
<text x="1388.6" y="1127.1" font-size="16.8" text-anchor="middle" fill="#333">7843</text>
<line x1="1388.6" y1="1136.6" x2="1388.6" y2="1140.2" stroke="#555" stroke-width="1.5"/>
<text transform="translate(1395.8,1143.3) rotate(-90)" font-size="19.75" text-anchor="end" fill="#000">CTCF–RAD21</text>
<line x1="1461.6" y1="782.9" x2="1461.6" y2="929.81" stroke="#333" stroke-width="1.8"/>
<line x1="1461.6" y1="1068.47" x2="1461.6" y2="1100.2" stroke="#333" stroke-width="1.8"/>
<polygon points="1434.2,929.81 1489,929.81 1489,1012.84 1475.3,1014.85 1489,1016.86 1489,1068.47 1434.2,1068.47 1434.2,1016.86 1447.9,1014.85 1434.2,1012.84" fill="#E52332" stroke="#3a3a3a" stroke-width="1.6" stroke-linejoin="miter"/>
<line x1="1447.9" y1="1014.85" x2="1475.3" y2="1014.85" stroke="#333" stroke-width="2.6"/>
<text x="1461.6" y="1127.1" font-size="16.8" text-anchor="middle" fill="#333">11894</text>
<line x1="1461.6" y1="1136.6" x2="1461.6" y2="1140.2" stroke="#555" stroke-width="1.5"/>
<text transform="translate(1468.8,1143.3) rotate(-90)" font-size="19.75" text-anchor="end" fill="#000">TOP2B–CTCF–RAD21</text>
<line x1="1534.2" y1="782.9" x2="1534.2" y2="919.02" stroke="#333" stroke-width="1.8"/>
<line x1="1534.2" y1="1061.17" x2="1534.2" y2="1100.2" stroke="#333" stroke-width="1.8"/>
<polygon points="1506.8,919.02 1561.6,919.02 1561.6,1000.29 1547.9,1002.15 1561.6,1004.01 1561.6,1061.17 1506.8,1061.17 1506.8,1004.01 1520.5,1002.15 1506.8,1000.29" fill="#6388C4" stroke="#3a3a3a" stroke-width="1.6" stroke-linejoin="miter"/>
<line x1="1520.5" y1="1002.15" x2="1547.9" y2="1002.15" stroke="#333" stroke-width="2.6"/>
<text x="1534.2" y="1127.1" font-size="16.8" text-anchor="middle" fill="#333">14588</text>
<line x1="1534.2" y1="1136.6" x2="1534.2" y2="1140.2" stroke="#555" stroke-width="1.5"/>
<text transform="translate(1541.4,1143.3) rotate(-90)" font-size="19.75" text-anchor="end" fill="#000">RAD21</text>
<line x1="1607" y1="782.9" x2="1607" y2="926.32" stroke="#333" stroke-width="1.8"/>
<line x1="1607" y1="1065.3" x2="1607" y2="1100.2" stroke="#333" stroke-width="1.8"/>
<polygon points="1579.6,926.32 1634.4,926.32 1634.4,1008.62 1620.7,1010.4 1634.4,1012.18 1634.4,1065.3 1579.6,1065.3 1579.6,1012.18 1593.3,1010.4 1579.6,1008.62" fill="#8A0F1A" stroke="#3a3a3a" stroke-width="1.6" stroke-linejoin="miter"/>
<line x1="1593.3" y1="1010.4" x2="1620.7" y2="1010.4" stroke="#333" stroke-width="2.6"/>
<text x="1607" y="1127.1" font-size="16.8" text-anchor="middle" fill="#333">15204</text>
<line x1="1607" y1="1136.6" x2="1607" y2="1140.2" stroke="#555" stroke-width="1.5"/>
<text transform="translate(1614.2,1143.3) rotate(-90)" font-size="19.75" text-anchor="end" fill="#000">TOP2B–RAD21</text>
<line x1="1679.8" y1="782.9" x2="1679.8" y2="922.51" stroke="#333" stroke-width="1.8"/>
<line x1="1679.8" y1="1060.54" x2="1679.8" y2="1100.2" stroke="#333" stroke-width="1.8"/>
<polygon points="1652.4,922.51 1707.2,922.51 1707.2,1004.91 1693.5,1007.23 1707.2,1009.55 1707.2,1060.54 1652.4,1060.54 1652.4,1009.55 1666.1,1007.23 1652.4,1004.91" fill="#EAE33A" stroke="#3a3a3a" stroke-width="1.6" stroke-linejoin="miter"/>
<line x1="1666.1" y1="1007.23" x2="1693.5" y2="1007.23" stroke="#333" stroke-width="2.6"/>
<text x="1679.8" y="1127.1" font-size="16.8" text-anchor="middle" fill="#333">8812</text>
<line x1="1679.8" y1="1136.6" x2="1679.8" y2="1140.2" stroke="#555" stroke-width="1.5"/>
<text transform="translate(1687,1143.3) rotate(-90)" font-size="19.75" text-anchor="end" fill="#000">TOP2B</text>
<polyline points="1388.6,760.7 1388.6,750.7 1461.6,750.7 1461.6,760.7" fill="none" stroke="#222" stroke-width="1.8"/>
<text x="1379.5" y="744.2" font-size="16.3" text-anchor="start" fill="#111"><tspan y="744.2">P </tspan><tspan y="745.5">=</tspan><tspan y="744.2"> 4.1 x 10</tspan><tspan y="738.6" font-size="10.2" dx="0.6">-8</tspan></text>
<polyline points="1534.2,760.7 1534.2,750.7 1607,750.7 1607,760.7" fill="none" stroke="#222" stroke-width="1.8"/>
<text x="1521.8" y="744.2" font-size="16.3" text-anchor="start" fill="#111"><tspan y="744.2">P </tspan><tspan y="745.5">=</tspan><tspan y="744.2"> 3.4 x 10</tspan><tspan y="738.6" font-size="10.2" dx="0.6">-10</tspan></text>
<text x="1761.9" y="923" font-size="19.7" text-anchor="start" fill="#000">Site type</text>
<rect x="1762" y="935.9" width="19" height="18.9" fill="#E52332" stroke="#2a2a2a" stroke-width="2"/>
<text x="1794" y="950.6" font-size="19.7" text-anchor="start" fill="#000">TOP2B–CTCF–RAD21</text>
<rect x="1762" y="961.3" width="19" height="18.9" fill="#8A0F1A" stroke="#2a2a2a" stroke-width="2"/>
<text x="1794" y="975.85" font-size="19.7" text-anchor="start" fill="#000">TOP2B–RAD21</text>
<rect x="1762" y="986.7" width="19" height="18.9" fill="#EAE33A" stroke="#2a2a2a" stroke-width="2"/>
<text x="1794" y="1001.1" font-size="19.7" text-anchor="start" fill="#000">TOP2B</text>
<rect x="1762" y="1012.1" width="19" height="18.9" fill="#00837F" stroke="#2a2a2a" stroke-width="2"/>
<text x="1794" y="1026.35" font-size="19.7" text-anchor="start" fill="#000">CTCF–RAD21</text>
<rect x="1762" y="1037.5" width="19" height="18.9" fill="#6388C4" stroke="#2a2a2a" stroke-width="2"/>
<text x="1794" y="1051.6" font-size="19.7" text-anchor="start" fill="#000">RAD21</text>
<line x1="1740.9" y1="1102" x2="1778.9" y2="1102" stroke="#151515" stroke-width="1.65" stroke-dasharray="3 3.2" stroke-dashoffset="1.2"/>
<text x="1786.8" y="1108.8" font-size="19.7" text-anchor="start" fill="#222">Site width (600 bps)</text>
</svg>
</body></html>
